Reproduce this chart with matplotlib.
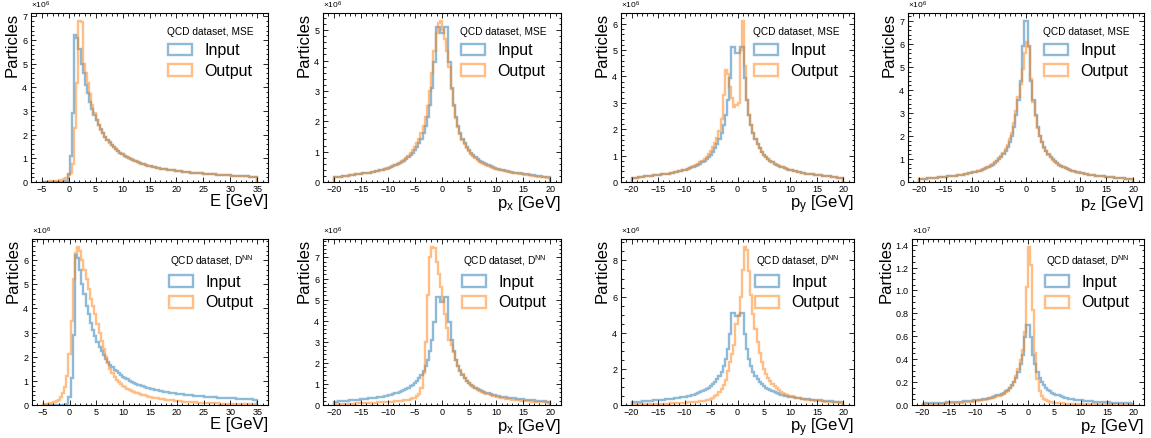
import numpy as np
import matplotlib.pyplot as plt
from matplotlib.patches import Patch
from matplotlib.ticker import AutoMinorLocator, MaxNLocator

plt.rcParams['font.family'] = ['Liberation Sans', 'DejaVu Sans']
plt.rcParams['mathtext.fontset'] = 'custom'
plt.rcParams['mathtext.rm'] = 'Liberation Sans'
plt.rcParams['mathtext.it'] = 'Liberation Sans:italic'

# bin edges (100 bins)
e_edges = np.linspace(-5, 35, 101)
p_edges = np.linspace(-20, 20, 101)

# counts per bin, in units of 1e4 particles
input_e = [0, 0, 0, 0, 0, 0, 0, 0, 0, 0,
           0, 3, 35, 110, 290, 620, 610, 560, 500, 460,
           410, 375, 340, 310, 285, 260, 240, 222, 206, 192,
           179, 167, 157, 147, 139, 131, 124, 117, 111, 106,
           101, 96, 92, 88, 84, 81, 78, 75, 72, 69,
           67, 65, 63, 61, 59, 57, 55, 54, 52, 51,
           50, 49, 47, 46, 45, 44, 43, 42, 41, 40,
           39, 38, 37, 37, 36, 35, 34, 34, 33, 32,
           32, 31, 30, 30, 29, 29, 28, 28, 27, 27,
           26, 26, 25, 25, 24, 24, 23, 23, 22, 22]

input_pxy = [15, 16, 17, 18, 19, 20, 21, 22, 23, 24,
             25, 26, 27, 28, 29, 30, 31, 32, 34, 35,
             37, 38, 40, 42, 44, 47, 49, 52, 55, 58,
             62, 66, 70, 75, 81, 88, 95, 104, 115, 128,
             143, 162, 185, 215, 255, 310, 395, 510, 510, 490,
             490, 510, 510, 395, 310, 255, 215, 185, 162, 143,
             128, 115, 104, 95, 88, 81, 75, 70, 66, 62,
             58, 55, 52, 49, 47, 44, 42, 40, 38, 37,
             35, 34, 32, 31, 30, 29, 28, 27, 26, 25,
             24, 23, 22, 21, 20, 19, 18, 17, 16, 15]

input_pz = [13, 14, 14, 15, 16, 17, 17, 18, 19, 20,
            21, 22, 23, 24, 25, 26, 27, 28, 29, 31,
            32, 34, 36, 38, 40, 42, 44, 47, 50, 53,
            56, 60, 65, 70, 76, 83, 90, 99, 109, 121,
            135, 152, 174, 202, 240, 290, 355, 440, 590, 700,
            700, 590, 440, 355, 290, 240, 202, 174, 152, 135,
            121, 109, 99, 90, 83, 76, 70, 65, 60, 56,
            53, 50, 47, 44, 42, 40, 38, 36, 34, 32,
            31, 29, 28, 27, 26, 25, 24, 23, 22, 21,
            20, 19, 18, 17, 17, 16, 15, 14, 14, 13]

mse_e = [1, 1, 2, 2, 3, 4, 5, 6, 8, 10,
         13, 18, 28, 40, 75, 230, 420, 680, 675, 500,
         460, 420, 370, 325, 290, 262, 240, 221, 205, 191,
         178, 166, 156, 147, 139, 131, 124, 117, 111, 106,
         101, 96, 92, 88, 84, 81, 78, 75, 72, 69,
         67, 65, 63, 61, 59, 57, 55, 54, 52, 51,
         50, 49, 47, 46, 45, 44, 43, 42, 41, 40,
         39, 38, 37, 37, 36, 35, 34, 34, 33, 32,
         32, 31, 30, 30, 29, 29, 28, 28, 27, 27,
         26, 26, 25, 25, 24, 24, 23, 23, 22, 22]

mse_px = [15, 16, 17, 18, 19, 20, 21, 22, 23, 24,
          25, 26, 27, 28, 29, 30, 31, 32, 34, 35,
          37, 38, 40, 42, 45, 47, 50, 53, 56, 60,
          64, 69, 74, 80, 87, 95, 104, 115, 128, 143,
          162, 185, 213, 250, 300, 360, 430, 490, 525, 530,
          500, 470, 430, 380, 305, 250, 210, 180, 157, 139,
          124, 112, 101, 92, 85, 78, 72, 67, 63, 59,
          55, 52, 49, 46, 44, 42, 40, 38, 36, 35,
          33, 32, 30, 29, 28, 27, 26, 25, 24, 23,
          22, 21, 20, 19, 18, 17, 16, 15, 14, 13]

mse_py = [15, 16, 17, 18, 19, 20, 21, 22, 23, 24,
          25, 26, 27, 28, 29, 30, 31, 32, 34, 35,
          37, 38, 40, 42, 44, 47, 50, 53, 56, 60,
          64, 69, 74, 80, 87, 96, 106, 118, 132, 148,
          165, 195, 240, 330, 425, 410, 360, 320, 285, 290,
          300, 500, 610, 440, 310, 255, 215, 185, 162, 143,
          128, 115, 104, 95, 88, 81, 75, 70, 66, 62,
          58, 55, 52, 49, 47, 44, 42, 40, 38, 37,
          35, 34, 32, 31, 30, 29, 28, 27, 26, 25,
          24, 23, 22, 21, 20, 19, 18, 17, 16, 15]

mse_pz = [13, 14, 14, 15, 16, 17, 17, 18, 19, 20,
          21, 22, 23, 24, 25, 26, 27, 28, 29, 31,
          32, 34, 36, 38, 40, 42, 44, 47, 50, 53,
          57, 61, 66, 72, 78, 85, 93, 103, 114, 127,
          142, 160, 185, 215, 255, 310, 370, 425, 490, 560,
          610, 585, 450, 350, 285, 237, 200, 172, 150, 133,
          119, 107, 97, 89, 82, 75, 69, 64, 59, 55,
          52, 49, 46, 43, 41, 39, 37, 35, 33, 32,
          30, 29, 28, 27, 26, 25, 24, 23, 22, 21,
          20, 19, 18, 17, 16, 16, 15, 14, 13, 13]

dnn_e = [3, 4, 5, 7, 9, 12, 16, 22, 32, 48,
         75, 120, 210, 350, 520, 630, 655, 640, 600, 560,
         520, 480, 440, 410, 375, 335, 300, 265, 230, 200,
         172, 150, 132, 117, 105, 95, 86, 79, 73, 68,
         63, 59, 55, 51, 48, 45, 42, 40, 37, 35,
         33, 31, 29, 28, 26, 25, 23, 22, 21, 20,
         19, 18, 17, 16, 15, 14, 14, 13, 12, 12,
         11, 11, 10, 10, 9, 9, 8, 8, 8, 7,
         7, 7, 6, 6, 6, 6, 5, 5, 5, 5,
         4, 4, 4, 4, 4, 3, 3, 3, 3, 3]

dnn_px = [5, 5, 5, 6, 6, 6, 6, 7, 7, 7,
          8, 8, 8, 9, 9, 9, 10, 10, 11, 11,
          12, 12, 13, 13, 14, 15, 15, 16, 17, 18,
          19, 20, 22, 24, 26, 28, 31, 35, 42, 50,
          80, 150, 300, 520, 700, 750, 745, 680, 620, 560,
          500, 430, 365, 310, 285, 250, 215, 187, 164, 145,
          129, 116, 105, 95, 87, 80, 73, 68, 63, 58,
          54, 50, 47, 44, 41, 38, 36, 34, 32, 30,
          28, 27, 25, 24, 23, 22, 21, 20, 19, 18,
          17, 16, 15, 15, 14, 13, 13, 12, 12, 11]

dnn_py = [4, 4, 4, 5, 5, 5, 5, 5, 6, 6,
          6, 6, 7, 7, 7, 8, 8, 8, 9, 9,
          10, 10, 11, 11, 12, 13, 14, 15, 16, 17,
          18, 19, 20, 22, 24, 26, 29, 34, 40, 48,
          58, 70, 90, 110, 140, 190, 240, 280, 330, 450,
          500, 600, 745, 875, 860, 740, 610, 505, 420, 350,
          290, 240, 200, 172, 150, 132, 116, 103, 92, 82,
          74, 67, 61, 56, 52, 48, 44, 41, 38, 36,
          34, 32, 30, 28, 27, 25, 24, 23, 22, 21,
          20, 19, 18, 17, 16, 15, 15, 14, 13, 13]

dnn_pz = [8, 8, 9, 9, 10, 10, 11, 11, 12, 12,
          13, 14, 14, 15, 16, 17, 18, 19, 20, 22,
          23, 25, 27, 29, 31, 34, 36, 40, 43, 46,
          50, 54, 58, 63, 69, 75, 82, 90, 100, 112,
          126, 145, 170, 205, 250, 310, 390, 480, 640, 1030,
          1380, 1220, 830, 450, 230, 120, 75, 52, 40, 32,
          27, 23, 20, 18, 16, 15, 14, 13, 12, 11,
          10, 10, 9, 9, 8, 8, 8, 7, 7, 7,
          7, 6, 6, 6, 6, 6, 6, 5, 5, 5,
          5, 5, 5, 5, 5, 4, 4, 4, 4, 4]

xlabels = ['E [GeV]', r'p$_{\rm x}$ [GeV]', r'p$_{\rm y}$ [GeV]', r'p$_{\rm z}$ [GeV]']
titles = ['QCD dataset, MSE', r'QCD dataset, D$^{\rm NN}$']

panels = [
    (e_edges, input_e, mse_e, 0, 0), (p_edges, input_pxy, mse_px, 1, 0),
    (p_edges, input_pxy, mse_py, 2, 0), (p_edges, input_pz, mse_pz, 3, 0),
    (e_edges, input_e, dnn_e, 0, 1), (p_edges, input_pxy, dnn_px, 1, 1),
    (p_edges, input_pxy, dnn_py, 2, 1), (p_edges, input_pz, dnn_pz, 3, 1),
]

# axes boxes in pixels: left, right, top, bottom
W, H = 1151, 438
boxes = [(31, 268, 13, 182), (323, 561, 13, 182), (621, 854, 13, 182), (908, 1144, 13, 182),
         (32, 268, 239, 405), (323, 561, 239, 405), (621, 854, 239, 405), (912, 1144, 239, 405)]

c_in = 'tab:blue'
c_out = 'tab:orange'

fig = plt.figure(figsize=(W / 100, H / 100), dpi=100)

for (edges, vin, vout, col, row), (l, r, t, b) in zip(panels, boxes):
    ax = fig.add_axes([l / W, 1 - b / H, (r - l) / W, (b - t) / H])
    vin = np.array(vin) * 1e4
    vout = np.array(vout) * 1e4
    ax.stairs(vin, edges, color=c_in, alpha=0.5, lw=1.7)
    ax.stairs(vout, edges, color=c_out, alpha=0.5, lw=1.7)
    ax.set_ylim(0, max(vin.max(), vout.max()) * 1.05)

    ax.xaxis.set_major_locator(MaxNLocator(10, steps=[1, 2, 2.5, 5, 10]))
    ax.yaxis.set_major_locator(MaxNLocator(8, steps=[1, 2, 2.5, 5, 10]))
    ax.xaxis.set_minor_locator(AutoMinorLocator())
    ax.yaxis.set_minor_locator(AutoMinorLocator())
    ax.ticklabel_format(axis='y', style='sci', scilimits=(0, 0), useMathText=True)
    ax.yaxis.get_offset_text().set_fontsize(6)
    ax.tick_params(which='both', direction='in', top=True, right=True,
                   labelsize=6.5, width=0.6, pad=2)
    ax.tick_params(which='major', length=3.5)
    ax.tick_params(which='minor', length=1.8)
    for s in ax.spines.values():
        s.set_linewidth(0.8)

    ax.set_xlabel(xlabels[col], loc='right', fontsize=12, labelpad=0)
    ax.set_ylabel('Particles', loc='top', fontsize=12, labelpad=1)

    handles = [Patch(facecolor='none', edgecolor=c_in, alpha=0.5, lw=1.7, label='Input'),
               Patch(facecolor='none', edgecolor=c_out, alpha=0.5, lw=1.7, label='Output')]
    ax.legend(handles=handles, title=titles[row], loc='upper right', frameon=False,
              fontsize=11.5, title_fontsize=7.3, handlelength=1.5, handleheight=0.75,
              labelspacing=0.35, borderaxespad=0.5)

fig.savefig('out.png', dpi=100)
